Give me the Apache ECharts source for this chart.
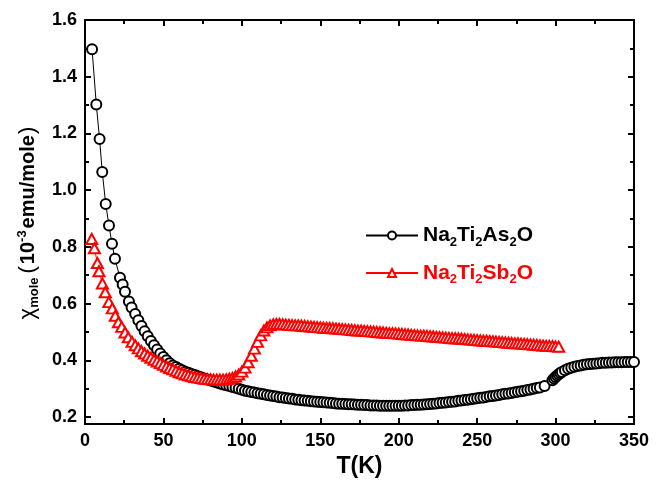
<!DOCTYPE html>
<html>
<head>
<meta charset="utf-8">
<script src="https://cdn.jsdelivr.net/npm/echarts@6/dist/echarts.min.js"></script>
<style>
  html, body { margin: 0; padding: 0; background: #fff; }
  #chart { width: 664px; height: 483px; }
</style>
</head>
<body>
<div id="chart"></div>
<script>
// Na2Ti2As2O: temperature (K) and molar susceptibility (10^-3 emu/mole)
const asT = [4.5, 7.2, 9.3, 11.0, 13.2, 15.3, 17.2, 19.1, 22.3, 24.0, 25.5, 28.0, 29.7,
  32, 34, 36, 38, 40, 42, 44, 46, 48, 50, 52, 54, 56, 58, 60, 62, 64, 66, 68, 70,
  72, 74, 76, 78, 80, 82, 84, 86, 88, 90, 92, 94, 96, 98, 100, 102, 104, 106, 108, 110,
  112, 114, 116, 118, 120, 122, 124, 126, 128, 130, 132, 134, 136, 138, 140, 142, 144, 146,
  148, 150, 152, 154, 156, 158, 160, 162, 164, 166, 168, 170, 172, 174, 176, 178, 180, 182,
  184, 186, 188, 190, 192, 194, 196, 198, 200, 202, 204, 206, 208, 210, 212, 214, 216, 218,
  220, 222, 224, 226, 228, 230, 232, 234, 236, 238, 240, 242, 244, 246, 248, 250, 252, 254,
  256, 258, 260, 262, 264, 266, 268, 270, 272, 274, 276, 278, 280, 282, 284, 286, 288, 290,
  293, 298, 299, 300, 301, 302, 303, 304, 306, 308, 310, 312, 314, 316, 318, 320, 322, 324,
  326, 328, 330, 332, 334, 336, 338, 340, 342, 344, 346, 348, 350];
const asChi = [1.497, 1.302, 1.180, 1.064, 0.951, 0.875, 0.811, 0.758, 0.691, 0.667, 0.642, 0.607, 0.586,
  0.563, 0.541, 0.521, 0.502, 0.485, 0.468, 0.453, 0.438, 0.424, 0.412, 0.400, 0.390, 0.382, 0.376, 0.370, 0.365, 0.360, 0.356, 0.352, 0.348,
  0.344, 0.340, 0.336, 0.332, 0.329, 0.325, 0.322, 0.318, 0.315, 0.312, 0.309, 0.306, 0.303, 0.300, 0.296, 0.293, 0.291, 0.288, 0.286, 0.284,
  0.282, 0.280, 0.278, 0.276, 0.274, 0.272, 0.270, 0.269, 0.267, 0.265, 0.264, 0.262, 0.261, 0.259, 0.258, 0.257, 0.256, 0.255,
  0.254, 0.253, 0.252, 0.251, 0.250, 0.249, 0.248, 0.247, 0.247, 0.246, 0.245, 0.245, 0.244, 0.243, 0.243, 0.242, 0.242, 0.241,
  0.241, 0.241, 0.240, 0.240, 0.240, 0.240, 0.240, 0.240, 0.240, 0.240, 0.241, 0.241, 0.242, 0.242, 0.243, 0.243, 0.244, 0.245,
  0.246, 0.247, 0.248, 0.249, 0.250, 0.251, 0.253, 0.254, 0.255, 0.257, 0.258, 0.260, 0.261, 0.263, 0.264, 0.266, 0.268, 0.269,
  0.271, 0.273, 0.274, 0.276, 0.278, 0.280, 0.282, 0.283, 0.285, 0.287, 0.289, 0.291, 0.293, 0.295, 0.297, 0.300, 0.302, 0.304,
  0.309, 0.330, 0.336, 0.341, 0.346, 0.351, 0.355, 0.359, 0.365, 0.370, 0.374, 0.377, 0.380, 0.382, 0.384, 0.386, 0.387, 0.388,
  0.389, 0.390, 0.391, 0.391, 0.392, 0.392, 0.393, 0.393, 0.393, 0.394, 0.394, 0.394, 0.394];

// Na2Ti2Sb2O: temperature (K) and molar susceptibility (10^-3 emu/mole)
const sbT = [4.3, 6.0, 7.9, 8.9, 11.1, 12.9, 15.2, 17.4, 19.3, 21.3, 23.4, 25.5, 27.6,
  30, 32, 34, 36, 38, 40, 42, 44, 46, 48, 50, 52, 54, 56, 58, 60, 62, 64, 66, 68,
  70, 72, 74, 76, 78, 80, 82, 84, 86, 88, 90, 92, 94, 96, 98, 100, 102, 104, 106, 108,
  110, 112, 114, 116, 118, 120, 122, 124, 126, 128, 130, 132, 134, 136, 138, 140, 142, 144,
  146, 148, 150, 152, 154, 156, 158, 160, 162, 164, 166, 168, 170, 172, 174, 176, 178, 180,
  182, 184, 186, 188, 190, 192, 194, 196, 198, 200, 202, 204, 206, 208, 210, 212, 214, 216,
  218, 220, 222, 224, 226, 228, 230, 232, 234, 236, 238, 240, 242, 244, 246, 248, 250, 252,
  254, 256, 258, 260, 262, 264, 266, 268, 270, 272, 274, 276, 278, 280, 282, 284, 286, 288,
  290, 292, 294, 296, 298, 300, 302];
const sbChi = [0.828, 0.795, 0.743, 0.714, 0.671, 0.640, 0.605, 0.583, 0.557, 0.534, 0.518, 0.498, 0.481,
  0.465, 0.453, 0.442, 0.432, 0.424, 0.416, 0.409, 0.402, 0.396, 0.390, 0.384, 0.378, 0.373, 0.368, 0.363, 0.358, 0.354, 0.350, 0.347, 0.344,
  0.341, 0.339, 0.337, 0.335, 0.334, 0.333, 0.332, 0.332, 0.332, 0.332, 0.333, 0.335, 0.338, 0.343, 0.350, 0.360, 0.374, 0.393, 0.416, 0.441,
  0.465, 0.488, 0.505, 0.516, 0.523, 0.527, 0.528, 0.528, 0.527, 0.526, 0.525, 0.524, 0.523, 0.523, 0.522, 0.521, 0.520, 0.519,
  0.518, 0.517, 0.516, 0.515, 0.514, 0.514, 0.513, 0.512, 0.511, 0.510, 0.509, 0.508, 0.507, 0.506, 0.505, 0.505, 0.504, 0.503,
  0.502, 0.501, 0.500, 0.499, 0.498, 0.497, 0.496, 0.496, 0.495, 0.494, 0.493, 0.492, 0.491, 0.490, 0.489, 0.488, 0.487, 0.487,
  0.486, 0.485, 0.484, 0.483, 0.482, 0.481, 0.480, 0.479, 0.478, 0.478, 0.477, 0.476, 0.475, 0.474, 0.473, 0.472, 0.471, 0.470,
  0.469, 0.469, 0.468, 0.467, 0.466, 0.465, 0.464, 0.463, 0.462, 0.461, 0.460, 0.460, 0.459, 0.458, 0.457, 0.456, 0.455, 0.454,
  0.453, 0.452, 0.451, 0.451, 0.450, 0.449, 0.448];

// Axis tick positions
const xTicks = [0, 50, 100, 150, 200, 250, 300, 350];
const yMajor = [0.2, 0.4, 0.6, 0.8, 1.0, 1.2, 1.4, 1.6];
const yMinor = [0.3, 0.5, 0.7, 0.9, 1.1, 1.3, 1.5];

const FONT = '"Liberation Sans", Arial, sans-serif';
const BLACK = '#000000';
const RED = '#ff0000';

const pairs = (xs, ys) => xs.map((x, i) => [x, ys[i]]);

const lineAxis = { show: true, lineStyle: { color: BLACK, width: 2 } };

function yAxisDef(position, values, len, withLabels) {
  return {
    type: 'value',
    position: position,
    min: 0.175,
    max: 1.6,
    axisLine: lineAxis,
    splitLine: { show: false },
    axisTick: {
      show: true, inside: true, length: len, customValues: values,
      lineStyle: { color: BLACK, width: 2 }
    },
    axisLabel: withLabels ? {
      show: true, customValues: values, margin: 8,
      formatter: v => v.toFixed(1),
      color: BLACK, fontSize: 18, fontWeight: 'bold', fontFamily: FONT
    } : { show: false }
  };
}

function xAxisDef(position, withLabels) {
  return {
    type: 'value',
    position: position,
    min: xTicks[0],
    max: xTicks[xTicks.length - 1],
    interval: xTicks[1] - xTicks[0],
    axisLine: lineAxis,
    splitLine: { show: false },
    minorSplitLine: { show: false },
    axisTick: { show: true, inside: true, length: 6, lineStyle: { color: BLACK, width: 2 } },
    minorTick: { show: true, splitNumber: 2, length: 4, lineStyle: { color: BLACK, width: 2 } },
    axisLabel: withLabels ? {
      show: true, margin: 8, color: BLACK, fontSize: 18, fontWeight: 'bold', fontFamily: FONT
    } : { show: false }
  };
}

const xBottom = xAxisDef('bottom', true);
xBottom.name = 'T(K)';
xBottom.nameLocation = 'middle';
xBottom.nameGap = 28;
xBottom.nameTextStyle = { color: BLACK, fontSize: 23, fontWeight: 'bold', fontFamily: FONT };

const yLeft = yAxisDef('left', yMajor, 6, true);
yLeft.name = '{chi|χ}{sub|mole}{par|(}{b|10}{sup|-3}{b|emu/mole}{par|)}';
yLeft.nameLocation = 'middle';
yLeft.nameGap = 39;
yLeft.nameRotate = 90;
yLeft.nameTextStyle = {
  color: BLACK, fontFamily: FONT,
  rich: {
    chi: { fontSize: 22, fontFamily: FONT, color: BLACK },
    sub: { fontSize: 13, fontWeight: 'bold', fontFamily: FONT, color: BLACK, padding: [13, 3, 0, 0] },
    par: { fontSize: 22, fontFamily: FONT, color: BLACK, padding: [0, 2, 0, 1] },
    b: { fontSize: 20, fontWeight: 'bold', fontFamily: FONT, color: BLACK },
    sup: { fontSize: 13, fontWeight: 'bold', fontFamily: FONT, color: BLACK, padding: [0, 2, 11, 0] }
  }
};

const legendRich = {
  kb: { fontSize: 21, fontWeight: 'bold', fontFamily: FONT, color: BLACK },
  ks: { fontSize: 13, fontWeight: 'bold', fontFamily: FONT, color: BLACK, padding: [13, 0, 0, 0] },
  rb: { fontSize: 21, fontWeight: 'bold', fontFamily: FONT, color: RED },
  rs: { fontSize: 13, fontWeight: 'bold', fontFamily: FONT, color: RED, padding: [13, 0, 0, 0] }
};

const chart = echarts.init(document.getElementById('chart'), null, { renderer: 'canvas' });
chart.setOption({
  animation: false,
  backgroundColor: '#ffffff',
  grid: { left: 85, right: 30, top: 20, bottom: 55, containLabel: false },
  xAxis: [xBottom, xAxisDef('top', false)],
  yAxis: [
    yLeft,
    yAxisDef('left', yMinor, 4, false),
    yAxisDef('right', yMajor, 6, false),
    yAxisDef('right', yMinor, 4, false)
  ],
  legend: {
    orient: 'vertical',
    left: 360,
    top: 220,
    itemWidth: 52,
    itemHeight: 10,
    itemGap: 14,
    data: ['Na2Ti2As2O', 'Na2Ti2Sb2O'],
    formatter: name => {
      const k = name === 'Na2Ti2As2O' ? 'k' : 'r';
      const el = name === 'Na2Ti2As2O' ? 'As' : 'Sb';
      return `{${k}b|Na}{${k}s|2}{${k}b|Ti}{${k}s|2}{${k}b|${el}}{${k}s|2}{${k}b|O}`;
    },
    textStyle: { rich: legendRich }
  },
  series: [
    {
      name: 'Na2Ti2As2O',
      type: 'line',
      data: pairs(asT, asChi),
      symbol: 'emptyCircle',
      symbolSize: 10,
      lineStyle: { color: BLACK, width: 1 },
      itemStyle: { color: BLACK, borderColor: BLACK, borderWidth: 1 },
      z: 2
    },
    {
      name: 'Na2Ti2Sb2O',
      type: 'line',
      data: pairs(sbT, sbChi),
      symbol: 'emptyTriangle',
      symbolSize: [11, 10],
      lineStyle: { color: RED, width: 1 },
      itemStyle: { color: RED, borderColor: RED, borderWidth: 1 },
      z: 3
    }
  ]
});
</script>
</body>
</html>
